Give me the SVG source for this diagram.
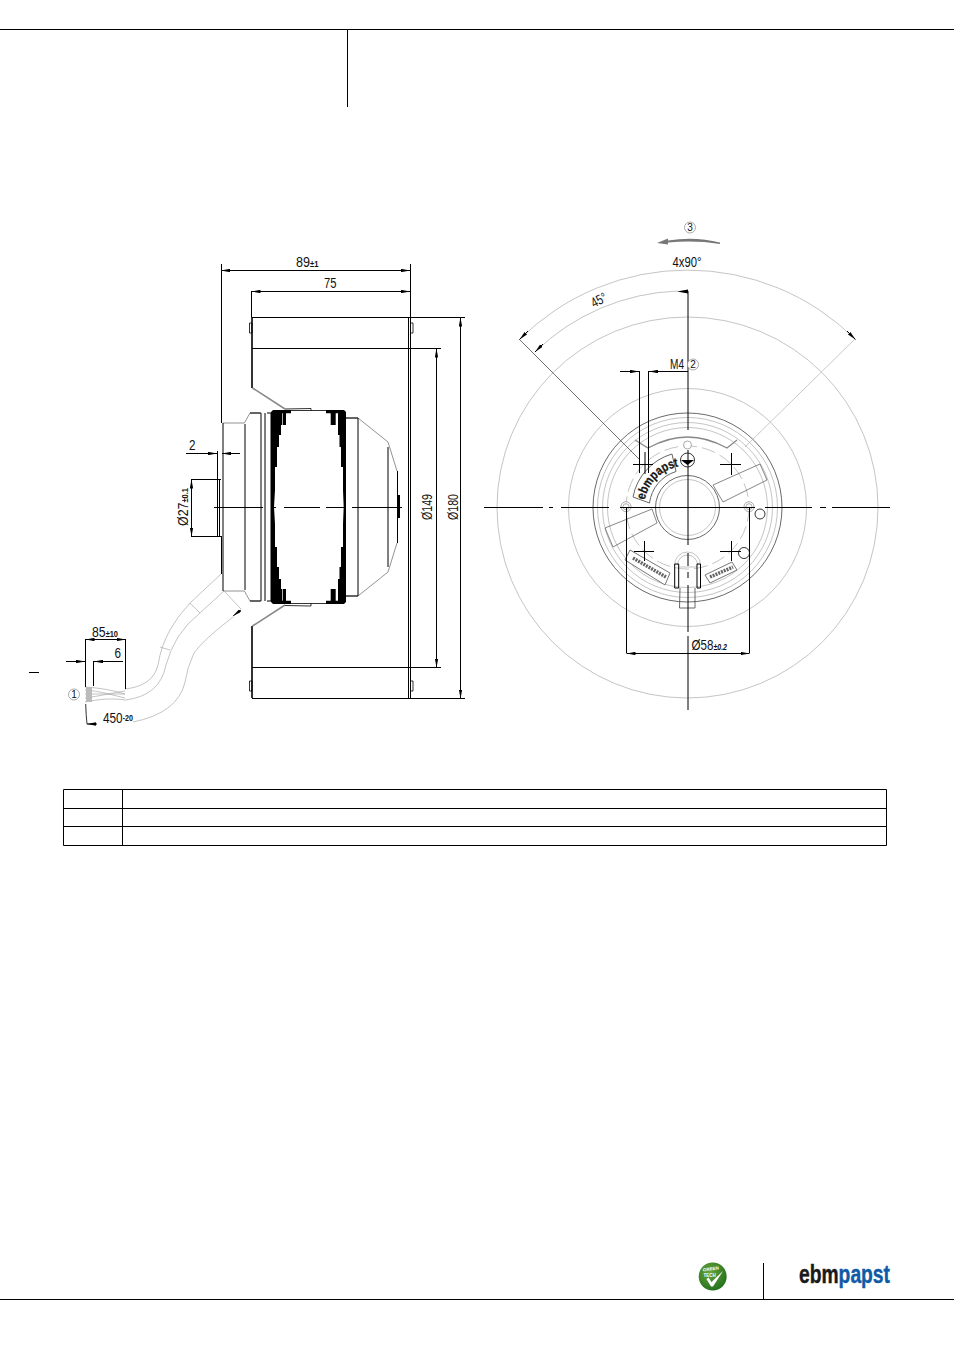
<svg xmlns="http://www.w3.org/2000/svg" width="954" height="1350" viewBox="0 0 954 1350">
<style>
text{font-family:"Liberation Sans",Arial,sans-serif;fill:#111}
.k{fill:none;stroke:#000;stroke-width:1}
.t{fill:none;stroke:#000;stroke-width:.8}
.g{fill:none;stroke:#aaa;stroke-width:.7}
.m{fill:none;stroke:#777;stroke-width:.8}
.b{fill:none;stroke:#444;stroke-width:.8}
.l{fill:none;stroke:#555;stroke-width:.7}
.d{font-size:14px}
.s{font-size:8.500px;font-weight:bold}
.c{fill:#fff;stroke:#888;stroke-width:.7}
.n{font-size:10px;text-anchor:middle}
</style>
<defs>
<marker id="a" viewBox="0 0 9 3.400" refX="9" refY="1.700" markerWidth="9" markerHeight="3.400" orient="auto-start-reverse" markerUnits="userSpaceOnUse"><path d="M0 0L9 1.700L0 3.400Z" fill="#000"/></marker>
<radialGradient id="gt" cx=".4" cy=".35" r=".75"><stop offset="0" stop-color="#6aa63a"/><stop offset="1" stop-color="#1c6a1a"/></radialGradient>
</defs>
<rect width="954" height="1350" fill="#fff"/>
<g id="frame" class="k">
<path d="M0 29.500H954M347.500 29V107M0 1299.500H954M763.500 1263V1299"/>
</g>
<g id="table">
<path class="k" d="M63.500 789.500H886.500V845.500H63.500ZM63.500 808.500H886.500M63.500 826.500H886.500M122.500 789V845"/>
</g>

<g id="side-view">
<path class="k" d="M252 317.500H409M252 348.500H409M252 667.500H409M252 698.500H409"/>
<path d="M252 317V388M252 626V698" stroke="#000" stroke-width="1.600" fill="none"/>
<path class="k" d="M408.500 317V698M410.500 317V698"/>
<path class="t" d="M249.500 323H252V333H249.500ZM410.500 323H413V333H410.500ZM249.500 681H252V691H249.500ZM410.500 681H413V691H410.500Z"/>
<path d="M252.500 388L285 409M252.500 626L285 605" stroke="#888" stroke-width="1.500" fill="none"/>
<path class="t" d="M285 409L311 408.500V410.500H291M285 605.500L311 606V603.500H291M311 410.500H326M311 603.500H326"/>
<path class="m" d="M223 423H244Q245 423 246 420L250 413H260M223 591H244Q245 591 246 594L250 601H260M346 418H358L388 442L397 471M346 596H358L388 572L397 543"/>
<path class="k" d="M223 423V591M245 424V590M261 413V601H250M261 413H250M265 413V601M267 413H271V601H267M358 418V596H346M346 418H358M388 447V567M397.500 471V543"/>
<path d="M399 495V518" stroke="#000" stroke-width="2"/>
<path id="rotor-left" d="M273 410H291V413.300H286V425H282.700V413.300H282V425H281V435H279V447H277V467H275V490L274 507L275 524V547H277V567H279V579H281V589H282V600.700H282.700V589H286V600.700H291V604H273L271 602V412Z" fill="#000"/>
<path id="rotor-right" d="M344 410H326V413.300H330.700V425H335.700V413.300H338V435H339.500V447H341V467H343V490L343.700 507L343 524V547H341V567H339.500V579H338V600.700H335.700V589H330.700V600.700H326V604H344L346 602V412Z" fill="#000"/>
<path class="k" d="M217.500 451V536M219.500 479V536M221.500 264V423M221.500 536V574"/>
<path class="k" d="M214 507.500H263M272 507.500H276M284 507.500H320M326 507.500H345M352 507.500H402"/>
<path class="g" d="M221 574L190 603Q177 617 170 630Q161 646 158 665Q153 686 125 689M224 591L200 613Q187 623 178 637Q170 650 166 665Q160 696 125 700M190 603L200 613M160 647L170 650M224 591L241 609M233 617Q203 640 194 653Q187 668 185 682Q178 713 133 722"/>
<path class="g" d="M85 687C100 688 112 690 125 694M85 690C100 691 112 695 125 698M85 694H125M85 698C100 696 112 693 125 691M85 702C100 699 112 698 125 700M87 702L90 687"/>
<path d="M86 687H92V702H86Z" fill="#bbb"/>
<path class="t" d="M85.700 704Q86 715 87 724"/>
</g>

<g id="dims-side">
<path class="k" d="M221 270.500H410" marker-start="url(#a)" marker-end="url(#a)"/>
<path class="k" d="M251.500 291.500H410" marker-start="url(#a)" marker-end="url(#a)"/>
<path class="k" d="M251.500 291V317M410.500 264V317M409 317.500H465M409 698.500H465M409 348.500H441M409 667.500H441"/>
<path class="k" d="M436.500 348.500V667.500" marker-start="url(#a)" marker-end="url(#a)"/>
<path class="k" d="M460.500 317.500V698.500" marker-start="url(#a)" marker-end="url(#a)"/>
<path class="k" d="M186 453.500H217" marker-end="url(#a)"/>
<path class="k" d="M240 453.500H222" marker-end="url(#a)"/>
<path class="k" d="M191.500 479.500V536.500" marker-start="url(#a)" marker-end="url(#a)"/>
<path class="k" d="M191 479.500H221M191 536.500H221"/>
<path class="k" d="M85.500 639V687M125.500 639V689M93.500 661V686"/>
<path class="k" d="M85.500 639.500H125.500" marker-start="url(#a)" marker-end="url(#a)"/>
<path class="k" d="M66 661.500H85" marker-end="url(#a)"/>
<path class="k" d="M123 661.500H94" marker-end="url(#a)"/>
<path class="k" d="M29 672.500H39"/>
<path class="k" d="M97 724H87" marker-end="url(#a)"/>
<path d="M241 610L233 616" stroke="#000" stroke-width=".8" marker-end="url(#a)"/>
<text class="d" x="296" y="267" textLength="22.500" lengthAdjust="spacingAndGlyphs">89<tspan class="s">±1</tspan></text>
<text class="d" x="324" y="288" textLength="12.500" lengthAdjust="spacingAndGlyphs">75</text>
<text class="d" x="189" y="450" textLength="6.500" lengthAdjust="spacingAndGlyphs">2</text>
<text class="d" transform="translate(188 526) rotate(-90)" textLength="38" lengthAdjust="spacingAndGlyphs">Ø27<tspan class="s">±0.1</tspan></text>
<text class="d" transform="translate(432 520) rotate(-90)" textLength="26" lengthAdjust="spacingAndGlyphs">Ø149</text>
<text class="d" transform="translate(457.500 520) rotate(-90)" textLength="26" lengthAdjust="spacingAndGlyphs">Ø180</text>
<text class="d" x="92" y="636.500" textLength="26" lengthAdjust="spacingAndGlyphs">85<tspan class="s">±10</tspan></text>
<text class="d" x="114.500" y="658" textLength="6.500" lengthAdjust="spacingAndGlyphs">6</text>
<text class="d" x="103" y="722.500" textLength="30" lengthAdjust="spacingAndGlyphs">450<tspan class="s" dy="-1.500">-20</tspan></text>
<circle class="c" cx="74" cy="694.500" r="5.500"/><text class="n" x="74" y="698">1</text>
</g>

<g id="front-view">
<circle class="g" cx="687.500" cy="507.500" r="190.500"/>
<circle class="g" cx="687.500" cy="507.500" r="119"/>
<circle class="b" cx="687.500" cy="507.500" r="94.500"/>
<circle class="g" cx="687.500" cy="507.500" r="90"/>
<circle class="g" cx="687.500" cy="507.500" r="85"/>
<circle class="g" cx="687.500" cy="507.500" r="80"/>
<circle class="b" cx="687.500" cy="507.500" r="32"/>
<circle class="g" cx="687.500" cy="507.500" r="28"/>
<circle class="g" cx="687.500" cy="507.500" r="61.500" stroke-dasharray="14 5"/>
<path d="M635 440L648 448Q668 437 687.500 437Q707 437 727 448L737 440" fill="none" stroke="#888" stroke-width="1.300"/>
<path class="l" d="M713 485L760 464L767 480L723 502ZM605 528L652 509L657 523L613 547Z"/>
<path d="M630 550L670 573L665 585L625 560Z" fill="#fff" stroke="#777" stroke-linejoin="round"/>
<path d="M633 558L666 577" stroke="#666" stroke-width="3.500" stroke-dasharray="2 1" fill="none"/>
<path d="M705 575L732 562L737 570L710 583Z" fill="#fff" stroke="#777" stroke-linejoin="round"/>
<path d="M710 577L733 567" stroke="#666" stroke-width="3.500" stroke-dasharray="2 1" fill="none"/>
<path d="M633 497A55.500 55.500 0 0 1 672 454L676 471.500A38 38 0 0 0 649.500 503Z" fill="#fff" stroke="#666" stroke-linejoin="round"/>
<path id="ebm-arc" d="M645 500A42 42 0 0 1 679 466.500" fill="none"/>
<text font-size="13" font-weight="bold" stroke="#333" stroke-width=".3" textLength="50" lengthAdjust="spacingAndGlyphs"><textPath href="#ebm-arc">ebmpapst</textPath></text>
<circle class="c" cx="687.500" cy="445" r="4"/>
<circle class="t" cx="687.500" cy="460" r="7"/>
<path d="M681 460H694L687.500 465Z" fill="#000"/>
<circle class="c" cx="626" cy="506.700" r="5"/><circle class="c" cx="626" cy="506.700" r="3"/>
<circle class="c" cx="749" cy="506.700" r="5"/><circle class="c" cx="749" cy="506.700" r="3"/>
<circle class="t" cx="760" cy="514" r="5"/><circle class="t" cx="744" cy="553" r="5.500"/>
<path class="g" d="M674.500 565A13 13 0 0 1 700.500 565M677.500 565A10 10 0 0 1 697.500 565M678 567H697"/>
<path class="b" d="M680 588L679.500 608H695L695 588"/>
<path class="k" d="M674.700 564H678.700V588H674.700ZM697 564H700.500V588H697Z" fill="#fff"/>
<path class="k" d="M633 464.500H653M645 452V474M720 464.500H741M731.500 453V475M634 551.500H654M644.500 541V561M720 551.500H741M731.500 541V561"/>
<path d="M519 339L640 460" stroke="#333" stroke-width=".7" fill="none"/>
<path d="M855 339L745 447" stroke="#bbb" stroke-width=".8" fill="none"/>
</g>

<g id="centerlines">
<path class="k" d="M484 507.500H543M549 507.500H553M561 507.500H609M620 507.500H755M765 507.500H812M820 507.500H826M832 507.500H890"/>
<path class="k" d="M688 291V430M688 450V545M688 553V566M688 572V578M688 585V632M688 636V710"/>
</g>

<g id="dims-front">
<path class="g" d="M519.500 339.500A238 238 0 0 1 855.500 339.500"/>
<path class="g" d="M535 352A216 216 0 0 1 678 291"/>
<path d="M677 291.500L688 289.500V293.500Z" fill="#000"/>
<path class="k" d="M528 331L519.500 339.500" marker-end="url(#a)"/>
<path class="k" d="M847 331L855.500 339.500" marker-end="url(#a)"/>
<path class="k" d="M543 344L535 352" marker-end="url(#a)"/>
<path class="k" d="M639.500 371V473M648.500 371V473"/>
<path class="k" d="M620 371.500H639" marker-end="url(#a)"/>
<path class="k" d="M688 371.500H649" marker-end="url(#a)"/>
<path class="k" d="M626.500 507V653M749.500 507V653"/>
<path class="k" d="M626.500 653.500H749.500" marker-start="url(#a)" marker-end="url(#a)"/>
<path d="M657 243L668 238.500V240.500Q695 236 720 242.500V244Q695 240 668 242.500V244.500Z" fill="#777"/>
<circle class="c" cx="690" cy="227.500" r="5.500"/><text class="n" x="690" y="231">3</text>
<circle class="c" cx="693" cy="364.500" r="5.500"/><text class="n" x="693" y="368">2</text>
<text class="d" x="672.500" y="267" textLength="29" lengthAdjust="spacingAndGlyphs">4x90°</text>
<text class="d" transform="translate(594 308) rotate(-28)" textLength="16" lengthAdjust="spacingAndGlyphs">45°</text>
<text class="d" x="670" y="369" textLength="14" lengthAdjust="spacingAndGlyphs">M4</text>
<text class="d" x="691.500" y="649.500" textLength="35.500" lengthAdjust="spacingAndGlyphs">Ø58<tspan class="s" font-style="italic">±0.2</tspan></text>
</g>

<g id="logos">
<circle cx="712.700" cy="1276.500" r="14" fill="url(#gt)"/>
<path d="M706.500 1279L708.500 1277.500L711.500 1282L723 1271L713 1286.500H711Z" fill="#fff"/>
<text x="703" y="1271.500" font-size="4.500" font-weight="bold" style="fill:#fff" transform="rotate(-8 703 1271)">GREEN</text>
<text x="703.500" y="1277" font-size="4.500" font-weight="bold" style="fill:#fff">TECH</text>
<text x="799" y="1283" font-size="25" font-weight="bold" stroke-width=".4" textLength="91" lengthAdjust="spacingAndGlyphs"><tspan stroke="#1a1a1a" style="fill:#1a1a1a">ebm</tspan><tspan stroke="#0f5aa6" style="fill:#0f5aa6">papst</tspan></text>
</g>
</svg>
